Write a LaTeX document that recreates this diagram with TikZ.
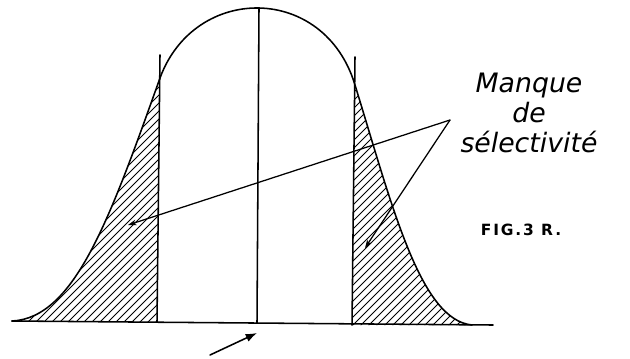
\documentclass[tikz,border=0pt]{standalone}
\usepackage{fontspec}
\newfontfamily\handfont{DejaVu Sans}
\usetikzlibrary{arrows.meta}

\tikzset{
  curve/.style={line width=1.1pt},
  hatch/.style={line width=0.55pt},
  pointer/.style={line width=0.9pt,-{Stealth[length=6pt,width=4pt]}},
}

\begin{document}
\begin{tikzpicture}[x=0.025cm,y=-0.025cm,line cap=round,line join=round]
    \useasboundingbox (0,0) rectangle (630,358);

    % points of the curve and the axis
    \coordinate (b0) at (12,321);
    \coordinate (b1) at (493,325);
    \coordinate (ljoin) at (160,78);
    \coordinate (rjoin) at (355,85);
    \coordinate (rfoot) at (472,325);
    \coordinate (ltop) at (160,55);
    \coordinate (lbot) at (157,322);
    \coordinate (rtop) at (355,57);
    \coordinate (rbot) at (352,325);
    \coordinate (ctop) at (259,8);
    \coordinate (cbot) at (257,323);

    % hatched tails
    \begin{scope}
        \clip (b0) .. controls (75,318) and (110,218) .. (ljoin) -- (lbot) -- cycle;
        \foreach \i in {-100,-92,...,480}
            \draw[hatch] (\i,330) -- ++(270,-270);
    \end{scope}
    \begin{scope}
        \clip (rjoin) .. controls (392,205) and (420,320) .. (rfoot) -- (rbot) -- cycle;
        \foreach \i in {-100,-92,...,480}
            \draw[hatch] (\i,330) -- ++(270,-270);
    \end{scope}

    % axis, verticals and the curve
    \draw[curve] (b0) -- (b1);
    \draw[curve] (lbot) -- (ltop);
    \draw[curve] (rbot) -- (rtop);
    \draw[curve] (cbot) -- (ctop);
    \draw[curve] (b0) .. controls (75,318) and (110,218) .. (ljoin)
        .. controls (194.7,-16.5) and (324.5,-16.5) .. (rjoin)
        .. controls (392,205) and (420,320) .. (rfoot);

    % labels
    \node[align=center, font=\handfont\itshape\fontsize{19}{21.5}\selectfont] (sel) at (529,113)
        {Manque\\de\\sélectivité};
    \node[font=\handfont\bfseries\fontsize{11}{12}\selectfont\addfontfeature{LetterSpace=12}] (fig) at (521,230) {FIG.3 R.};

    % pointers
    \coordinate (apex) at (450,120);
    \coordinate (larrow) at (128,225);
    \coordinate (rarrow) at (365,248);
    \draw[pointer] (apex) -- (larrow);
    \draw[pointer] (apex) -- (rarrow);

    \coordinate (atail) at (210,355);
    \coordinate (ahead) at (257,333);
    \draw[line width=1.1pt,-{Latex[length=8pt,width=6pt]}] (atail) -- (ahead);
\end{tikzpicture}
\end{document}
